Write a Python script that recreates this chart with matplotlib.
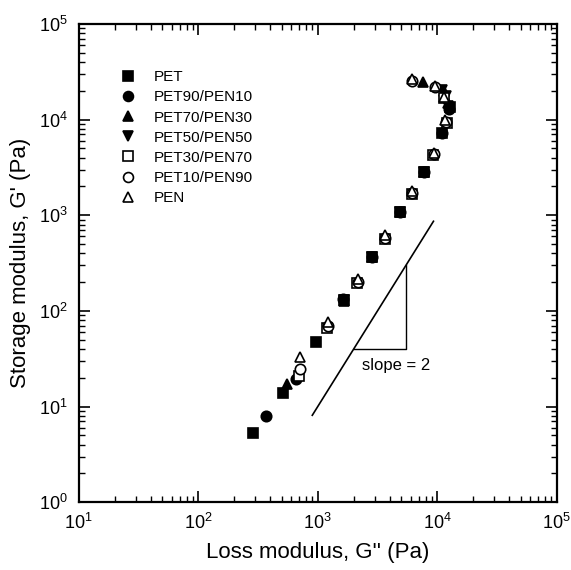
import numpy as np
import matplotlib
matplotlib.use("Agg")
import matplotlib.pyplot as plt
from matplotlib.ticker import LogLocator, NullFormatter

plt.rcParams["font.family"] = ["Liberation Sans", "DejaVu Sans"]
plt.rcParams["mathtext.default"] = "regular"

# G'' (Pa) and G' (Pa), one pair of lists per sample
pet_x = [286, 509, 962, 1650, 2830, 4850, 7710, 10900, 12800]
pet_y = [5.3, 13.8, 47, 130, 365, 1080, 2830, 7240, 13500]
pet90_x = [367, 655, 1640, 2820, 4840, 7700, 11000, 12600]
pet90_y = [7.9, 19.3, 132, 368, 1090, 2850, 7300, 13000]
pet70_x = [550, 1660, 2850, 4880, 7720, 12400, 11500, 7600]
pet70_y = [17, 128, 362, 1075, 2810, 15000, 20000, 24600]
pet50_x = [1650, 2830, 4850, 7700, 12200, 11900, 10900]
pet50_y = [131, 366, 1085, 2840, 13800, 17800, 20600]
pet30_x = [690, 1200, 2150, 3630, 6100, 9300, 12100, 11400]
pet30_y = [20.8, 66, 195, 565, 1670, 4280, 9300, 16800]
pet10_x = [707, 1215, 2165, 3650, 6130, 9360, 11900, 9500, 6100]
pet10_y = [24.6, 70, 200, 578, 1700, 4370, 9500, 22000, 25200]
pen_x = [715, 1225, 2180, 3680, 6180, 9420, 11700, 11300, 9600, 6150]
pen_y = [33, 77, 215, 615, 1790, 4520, 9900, 17400, 22600, 26500]

labels = ["PET", "PET90/PEN10", "PET70/PEN30", "PET50/PEN50",
          "PET30/PEN70", "PET10/PEN90", "PEN"]
xs = [pet_x, pet90_x, pet70_x, pet50_x, pet30_x, pet10_x, pen_x]
ys = [pet_y, pet90_y, pet70_y, pet50_y, pet30_y, pet10_y, pen_y]
markers = ["s", "o", "^", "v", "s", "o", "^"]
filled = [True, True, True, True, False, False, False]

# slope = 2 guide line and triangle
guide_x = [900, 9300]
tri_x = [2000, 5500]

fig = plt.figure(figsize=(5.71, 5.70), dpi=100)
ax = fig.add_axes([0.138, 0.119, 0.837, 0.839])

for x, y, m, f, lab in zip(xs, ys, markers, filled, labels):
    ax.plot(x, y, linestyle="none", marker=m, markersize=7.5,
            markerfacecolor="black" if f else "white",
            markeredgecolor="black", markeredgewidth=1.2, label=lab)

gx = np.array(guide_x, dtype=float)
ax.plot(gx, gx ** 2 / 1e5, color="black", lw=1.2)
t0, t1 = tri_x
ax.plot([t0, t1, t1], [t0 ** 2 / 1e5, t0 ** 2 / 1e5, t1 ** 2 / 1e5],
        color="black", lw=1.0)
ax.text(2350, 27, "slope = 2", fontsize=12, va="center", ha="left")

ax.set_xscale("log")
ax.set_yscale("log")
ax.set_xlim(10, 1e5)
ax.set_ylim(1, 1e5)

for axis in (ax.xaxis, ax.yaxis):
    axis.set_major_locator(LogLocator(base=10, numticks=10))
    axis.set_minor_locator(LogLocator(base=10, subs=np.arange(2, 10), numticks=10))
    axis.set_minor_formatter(NullFormatter())

ax.tick_params(which="both", direction="in", top=True, right=True)
ax.tick_params(which="major", length=8, width=1.2, labelsize=13, pad=8)
ax.tick_params(which="minor", length=4, width=1.0)
for s in ax.spines.values():
    s.set_linewidth(1.6)

ax.set_xlabel("Loss modulus, G'' (Pa)", fontsize=16, labelpad=6)
ax.set_ylabel("Storage modulus, G' (Pa)", fontsize=16, labelpad=6)

ax.legend(loc="upper left", bbox_to_anchor=(0.07, 0.919), frameon=False,
          fontsize=11, handlelength=1.0, handletextpad=1.2,
          labelspacing=0.4, borderpad=0, markerscale=0.95)

fig.savefig("out.png", dpi=100)
